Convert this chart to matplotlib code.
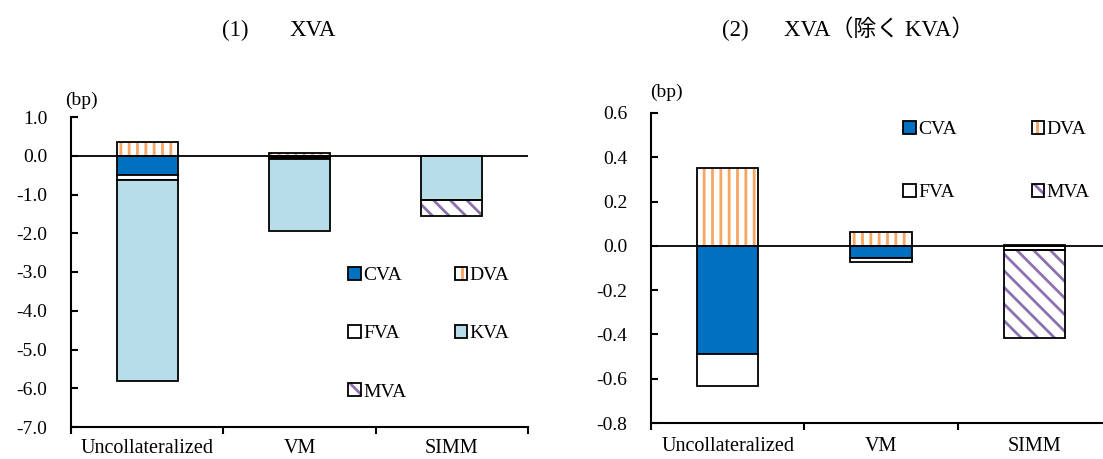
import numpy as np
import matplotlib
matplotlib.use('Agg')
import matplotlib.pyplot as plt
from matplotlib.patches import Patch
from matplotlib.legend_handler import HandlerTuple

plt.rcParams['font.family'] = ['Liberation Serif', 'Noto Sans CJK JP']
plt.rcParams['axes.unicode_minus'] = False
plt.rcParams['hatch.linewidth'] = 2.0

# data (bp)
categories = ['Uncollateralized', 'VM', 'SIMM']
cva = [-0.49, -0.055, 0.0]
dva = [0.352, 0.063, 0.005]
fva = [-0.145, -0.02, -0.018]
kva = [-5.17, -1.86, -1.13]
mva = [0.0, 0.0, -0.396]

left_ticks = [1.0, 0.0, -1.0, -2.0, -3.0, -4.0, -5.0, -6.0, -7.0]
right_ticks = [0.6, 0.4, 0.2, 0.0, -0.2, -0.4, -0.6, -0.8]

title_nums = ['(1)', '(2)']
title_names = ['XVA', 'XVA\uff08除く KVA\uff09']

styles = {
    'CVA': dict(face='#0070C0', hatch=None, hc=None),
    'DVA': dict(face='white', hatch='||', hc='#F7A562'),
    'FVA': dict(face='white', hatch=None, hc=None),
    'KVA': dict(face='#B7DDE8', hatch=None, hc=None),
    'MVA': dict(face='white', hatch='\\\\', hc='#8D70B0'),
}

W, H = 1103, 459
fig = plt.figure(figsize=(W / 100, H / 100), dpi=100)
ax1 = fig.add_axes([71 / W, 1 - 427 / H, 457 / W, 310 / H])
ax2 = fig.add_axes([651 / W, 1 - 423 / H, 460 / W, 310 / H])

x = np.arange(len(categories))
bw = 0.4
edge_lw = 1.3
fs = 14


def stack(ax, series):
    pos = np.zeros(len(x))
    neg = np.zeros(len(x))
    for name, vals in series:
        vals = np.array(vals, dtype=float)
        bottom = np.where(vals >= 0, pos, neg)
        st = styles[name]
        m = vals != 0
        if st['hatch']:
            # hatch layer in its own colour, black outline on top
            ax.bar(x[m], vals[m], bw, bottom=bottom[m], color='white',
                   edgecolor=st['hc'], hatch=st['hatch'], linewidth=0, zorder=2)
            ax.bar(x[m], vals[m], bw, bottom=bottom[m], fill=False,
                   edgecolor='black', linewidth=edge_lw, zorder=3)
        else:
            ax.bar(x[m], vals[m], bw, bottom=bottom[m], color=st['face'],
                   edgecolor='black', linewidth=edge_lw, zorder=3)
        pos += np.clip(vals, 0, None)
        neg += np.clip(vals, None, 0)


def legend_handle(name):
    st = styles[name]
    if st['hatch']:
        hp = Patch(facecolor='white', edgecolor=st['hc'], hatch=st['hatch'], linewidth=0)
        return (hp, Patch(fill=False, edgecolor='black', linewidth=edge_lw))
    return Patch(facecolor=st['face'], edgecolor='black', linewidth=edge_lw)


def style_axes(ax, ticks, xpad):
    for s in ['top', 'right']:
        ax.spines[s].set_visible(False)
    for s in ['left', 'bottom']:
        ax.spines[s].set_linewidth(1.5)
    ax.set_xlim(-0.5, 2.5)
    ax.set_ylim(min(ticks), max(ticks))
    ax.set_yticks(ticks)
    ax.set_yticklabels(['%.1f' % t for t in ticks])
    ax.tick_params(axis='y', direction='in', length=5, width=1.5, pad=17, labelsize=fs)
    ax.set_xticks(x)
    ax.set_xticklabels(categories)
    ax.set_xticks([-0.5, 0.5, 1.5, 2.5], minor=True)
    ax.tick_params(axis='x', which='major', length=0, pad=xpad, labelsize=14.5)
    ax.tick_params(axis='x', which='minor', direction='out', length=5, width=1.5)
    ax.axhline(0, color='black', linewidth=1.3, zorder=4)


stack(ax1, [('CVA', cva), ('DVA', dva), ('FVA', fva), ('KVA', kva), ('MVA', mva)])
stack(ax2, [('CVA', cva), ('DVA', dva), ('FVA', fva), ('MVA', mva)])
style_axes(ax1, left_ticks, 8.5)
style_axes(ax2, right_ticks, 10)

leg_kw = dict(ncol=2, loc='upper left', frameon=False, fontsize=fs,
              handlelength=0.65, handleheight=0.65, handletextpad=0.12,
              borderpad=0, borderaxespad=0,
              handler_map={tuple: HandlerTuple(ndivide=1, pad=0)})

order1 = ['CVA', 'FVA', 'MVA', 'DVA', 'KVA']
fig.legend([legend_handle(n) for n in order1], order1,
           bbox_to_anchor=(348 / W, 1 - 267 / H),
           labelspacing=2.1, columnspacing=2.5, **leg_kw)

order2 = ['CVA', 'FVA', 'DVA', 'MVA']
fig.legend([legend_handle(n) for n in order2], order2,
           bbox_to_anchor=(903 / W, 1 - 121 / H),
           labelspacing=2.35, columnspacing=3.85, **leg_kw)

fig.text(65 / W, 1 - 100 / H, '(bp)', ha='left', va='center', fontsize=fs)
fig.text(650 / W, 1 - 92 / H, '(bp)', ha='left', va='center', fontsize=fs)

tfs = 16.5
fig.text(222 / W, 1 - 30 / H, title_nums[0], ha='left', va='center', fontsize=tfs)
fig.text(290 / W, 1 - 30 / H, title_names[0], ha='left', va='center', fontsize=tfs)
fig.text(722 / W, 1 - 30 / H, title_nums[1], ha='left', va='center', fontsize=tfs)
fig.text(784 / W, 1 - 30 / H, title_names[1], ha='left', va='center', fontsize=tfs)

fig.savefig('out.png', dpi=100)
